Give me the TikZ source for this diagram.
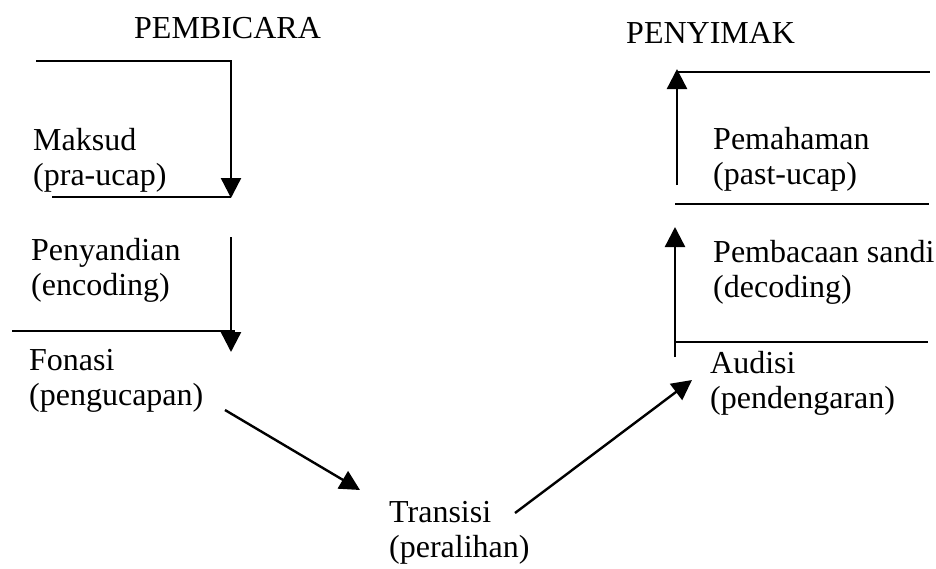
\documentclass[tikz,border=0pt]{standalone}
\usepackage{fontspec}
\setmainfont{Liberation Serif}
\usepackage{tikz}
\usetikzlibrary{arrows.meta, calc}

\begin{document}
\begin{tikzpicture}[x=0.5pt, y=-0.5pt, >={Triangle[length=10pt,width=10pt]}, line width=1.2pt,
  teks/.style={anchor=base west, align=left, inner sep=0pt, font=\fontsize{16}{17.5}\selectfont}]

\useasboundingbox (0,0) rectangle (936,568);

\node[teks] (pembicara) at (133,38) {PEMBICARA};
\node[teks] (penyimak) at (625,43) {PENYIMAK};

% base = baris kedua
\node[teks] (maksud) at (32,185) {Maksud\\(pra-ucap)};
\node[teks] (penyandian) at (30,295) {Penyandian\\(encoding)};
\node[teks] (fonasi) at (28,405) {Fonasi\\(pengucapan)};
\node[teks] (transisi) at (388,557) {Transisi\\(peralihan)};
\node[teks] (audisi) at (709,408) {Audisi\\(pendengaran)};
\node[teks] (pembacaan) at (712,297) {Pembacaan sandi\\(decoding)};
\node[teks] (pemahaman) at (712,184) {Pemahaman\\(past-ucap)};

\coordinate (a1) at (36,61);   \coordinate (a2) at (231,61);  \coordinate (a3) at (231,198);
\coordinate (b1) at (52,197);  \coordinate (b2) at (231,197);
\coordinate (c1) at (231,237); \coordinate (c2) at (231,352);
\coordinate (d1) at (12,331);  \coordinate (d2) at (235,331);
\coordinate (e1) at (225,410); \coordinate (e2) at (360,490);
\coordinate (f1) at (515,513); \coordinate (f2) at (692,380);
\coordinate (g1) at (675,357); \coordinate (g2) at (675,227);
\coordinate (h1) at (675,342); \coordinate (h2) at (928,342);
\coordinate (i1) at (675,204); \coordinate (i2) at (929,204);
\coordinate (j1) at (677,185); \coordinate (j2) at (677,69);
\coordinate (k1) at (677,72);  \coordinate (k2) at (930,72);

% pembicara
\draw[->] (a1) -- (a2) -- (a3);
\draw (b1) -- (b2);
\draw[->] (c1) -- (c2);
\draw (d1) -- (d2);

% transisi
\draw[->] (e1) -- (e2);
\draw[->] (f1) -- (f2);

% penyimak
\draw[->] (g1) -- (g2);
\draw (h1) -- (h2);
\draw (i1) -- (i2);
\draw[->] (j1) -- (j2);
\draw (k1) -- (k2);

\end{tikzpicture}
\end{document}
